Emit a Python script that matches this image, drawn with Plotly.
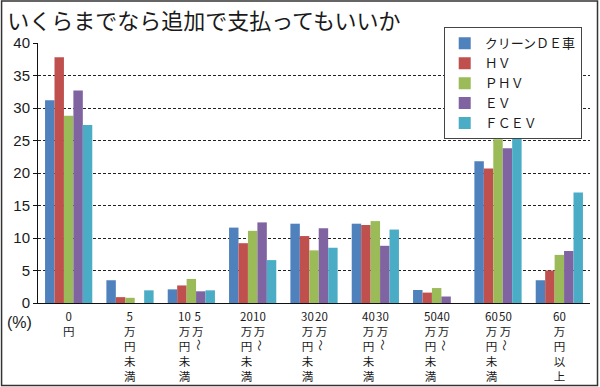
import plotly.graph_objects as go

categories = ["0円", "5万円未満", "5万〜10万円未満", "10万〜20万円未満", "20万〜30万円未満",
              "30万〜40万円未満", "40万〜50万円未満", "50万〜60万円未満", "60万円以上"]

series_names = ["クリーンＤＥ車", "ＨＶ", "ＰＨＶ", "ＥＶ", "ＦＣＥＶ"]
clean_de = [31.2, 3.5, 2.1, 11.6, 12.2, 12.2, 2.0, 21.8, 3.5]
hv = [37.8, 0.9, 2.7, 9.2, 10.3, 12.0, 1.6, 20.7, 5.0]
phv = [28.8, 0.8, 3.7, 11.1, 8.1, 12.6, 2.3, 25.2, 7.4]
ev = [32.7, 0.0, 1.8, 12.4, 11.5, 8.8, 1.0, 23.8, 8.0]
fcev = [27.4, 1.95, 1.95, 6.6, 8.5, 11.3, 0.0, 25.5, 17.0]
series_values = [clean_de, hv, phv, ev, fcev]
colors = ["#4F81BD", "#C0504D", "#9BBB59", "#8064A2", "#4BACC6"]

y_ticks = [0, 5, 10, 15, 20, 25, 30, 35, 40]

# vertical tick labels: first (right) column and second (left) column
label_col_first = [["0", "円"], ["5", "万", "円", "未", "満"], ["5", "万"], ["10", "万"],
                   ["20", "万"], ["30", "万"], ["40", "万"], ["50", "万"],
                   ["60", "万", "円", "以", "上"]]
label_wave = [False, False, True, True, True, True, True, True, False]
label_col_second = [[], [], ["10", "万", "円", "未", "満"], ["20", "万", "円", "未", "満"],
                    ["30", "万", "円", "未", "満"], ["40", "万", "円", "未", "満"],
                    ["50", "万", "円", "未", "満"], ["60", "万", "円", "未", "満"], []]

JP = "Noto Sans CJK JP"
TXT = "#1a1a1a"
LBL = 11.5
PITCH = LBL * 1.3

fig = go.Figure()
for name, vals, col in zip(series_names, series_values, colors):
    fig.add_trace(go.Bar(x=categories, y=vals, name=name,
                         marker=dict(color=col, line=dict(width=0))))

annotations = []
for cat, c1, wave, c2 in zip(categories, label_col_first, label_wave, label_col_second):
    two = len(c2) > 0
    for col_chars, shift in ((c1, 7 if two else 0), (c2, -6.5)):
        if not col_chars:
            continue
        annotations.append(dict(
            x=cat, xref="x", y=0, yref="paper", yanchor="top", xanchor="center",
            text="<br>".join(col_chars), showarrow=False, xshift=shift, yshift=-4,
            borderpad=0, align="center",
            font=dict(family=JP, size=LBL, color=TXT)))
    if wave:
        annotations.append(dict(
            x=cat, xref="x", y=0, yref="paper", yanchor="middle", xanchor="center",
            text="〜", textangle=90, showarrow=False, xshift=7,
            yshift=-(4 + 1 + PITCH * 2.5), borderpad=0,
            font=dict(family=JP, size=LBL, color=TXT)))

annotations.append(dict(x=-0.033, xref="paper", y=0, yref="paper", yanchor="middle",
                        xanchor="center", yshift=-19, text="(%)", showarrow=False,
                        font=dict(family="Liberation Sans, Arial", size=16, color=TXT)))

fig.update_layout(
    width=600, height=387,
    margin=dict(l=38, r=10, t=43, b=84),
    paper_bgcolor="white", plot_bgcolor="white",
    barmode="group", bargap=0.23, bargroupgap=0,
    title=dict(text="いくらまでなら追加で支払ってもいいか", x=0.012, xref="container",
               xanchor="left", y=0.945, yref="container", yanchor="middle",
               font=dict(family=JP, size=22, color=TXT)),
    xaxis=dict(showticklabels=False, showline=True, linecolor="#111", linewidth=1,
               showgrid=False, ticks="", fixedrange=True),
    yaxis=dict(range=[0, 40], tickvals=y_ticks, ticktext=[str(v) for v in y_ticks],
               showline=True, linecolor="#111", linewidth=1,
               ticks="outside", ticklen=4, tickcolor="#111",
               showgrid=True, gridcolor="#222", gridwidth=1, griddash="3px,2px",
               tickfont=dict(family="Liberation Sans, Arial", size=15, color=TXT),
               zeroline=False),
    legend=dict(x=0.985, xanchor="right", y=1.06, yanchor="top",
                bgcolor="white", bordercolor="#444", borderwidth=1,
                font=dict(family=JP, size=13, color=TXT),
                itemwidth=30, tracegroupgap=0),
    annotations=annotations,
    shapes=[dict(type="rect", xref="paper", yref="paper",
                 x0=-0.066, x1=1.0136, y0=-0.317, y1=1.1615,
                 line=dict(color="#333", width=1.5), fillcolor="rgba(0,0,0,0)",
                 layer="above")],
)

fig.write_html("out.html", config={"displayModeBar": False},
               post_script="document.body.style.margin='0';")
